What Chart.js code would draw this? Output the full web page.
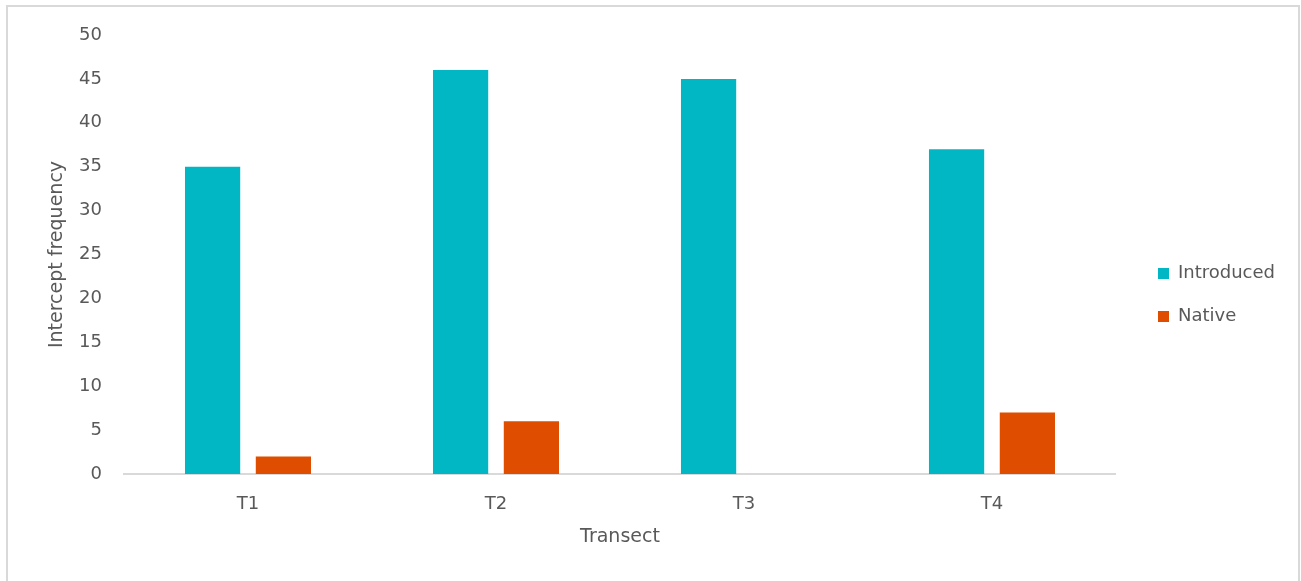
<!DOCTYPE html>
<html>
<head>
<meta charset="utf-8">
<script src="https://cdn.jsdelivr.net/npm/chart.js@4/dist/chart.umd.min.js"></script>
<style>
  html, body { margin: 0; padding: 0; background: #ffffff; overflow: hidden; }
  #wrap { position: relative; width: 1301px; height: 581px; }
  #frame {
    position: absolute; left: 6px; top: 5px; width: 1294px; height: 640px;
    box-sizing: border-box; border: 2px solid #d9d9d9; border-bottom: none;
    pointer-events: none;
  }
  canvas { position: absolute; left: 0; top: 0; }
</style>
</head>
<body>
<div id="wrap">
  <canvas id="chart" width="1301" height="581"></canvas>
  <div id="frame"></div>
</div>
<script>
// Intercept frequency per transect, split by plant origin
const transects = ['T1', 'T2', 'T3', 'T4'];
const introduced = [35, 46, 45, 37];
const native = [2, 6, 0, 7];
const yTicks = [0, 5, 10, 15, 20, 25, 30, 35, 40, 45, 50];

const textColor = '#595959';
const fontFamily = '"DejaVu Sans", sans-serif';

new Chart(document.getElementById('chart'), {
  type: 'bar',
  data: {
    labels: transects,
    datasets: [
      { label: 'Introduced', data: introduced, backgroundColor: '#00B7C3', borderWidth: 0,
        categoryPercentage: 0.571, barPercentage: 0.78 },
      { label: 'Native', data: native, backgroundColor: '#DF4E00', borderWidth: 0,
        categoryPercentage: 0.571, barPercentage: 0.78 }
    ]
  },
  options: {
    responsive: false,
    animation: false,
    devicePixelRatio: 1,
    layout: { padding: { left: 0, right: 16, top: 35, bottom: 26 } },
    plugins: {
      tooltip: { enabled: false },
      legend: {
        position: 'right',
        labels: {
          color: textColor,
          font: { family: fontFamily, size: 18 },
          boxWidth: 11,
          boxHeight: 11,
          padding: 25
        }
      }
    },
    scales: {
      x: {
        grid: { display: false, drawTicks: false, tickLength: 0 },
        border: { display: true, color: '#d9d9d9', width: 2 },
        ticks: { color: textColor, font: { family: fontFamily, size: 18 }, padding: 20 },
        title: { display: true, text: 'Transect', color: textColor,
                 font: { family: fontFamily, size: 19 }, padding: { top: 0, bottom: 7 } },
        afterFit: (s) => { s.height = 81; }
      },
      y: {
        min: 0, max: 50,
        grid: { display: false, drawTicks: false, tickLength: 0 },
        border: { display: false },
        afterBuildTicks: (s) => { s.ticks = yTicks.map(v => ({ value: v })); },
        ticks: { color: textColor, font: { family: fontFamily, size: 18 }, padding: 22 },
        title: { display: true, text: 'Intercept frequency', color: textColor,
                 font: { family: fontFamily, size: 19 }, padding: { top: 46, bottom: 0 } },
        afterFit: (s) => { s.width = 124; }
      },
      // empty strip between the plot and the legend
      gap: {
        type: 'linear', position: 'right', display: true,
        grid: { display: false, drawTicks: false, tickLength: 0 },
        border: { display: false },
        ticks: { display: false },
        afterFit: (s) => { s.width = 17; }
      }
    }
  }
});
</script>
</body>
</html>
